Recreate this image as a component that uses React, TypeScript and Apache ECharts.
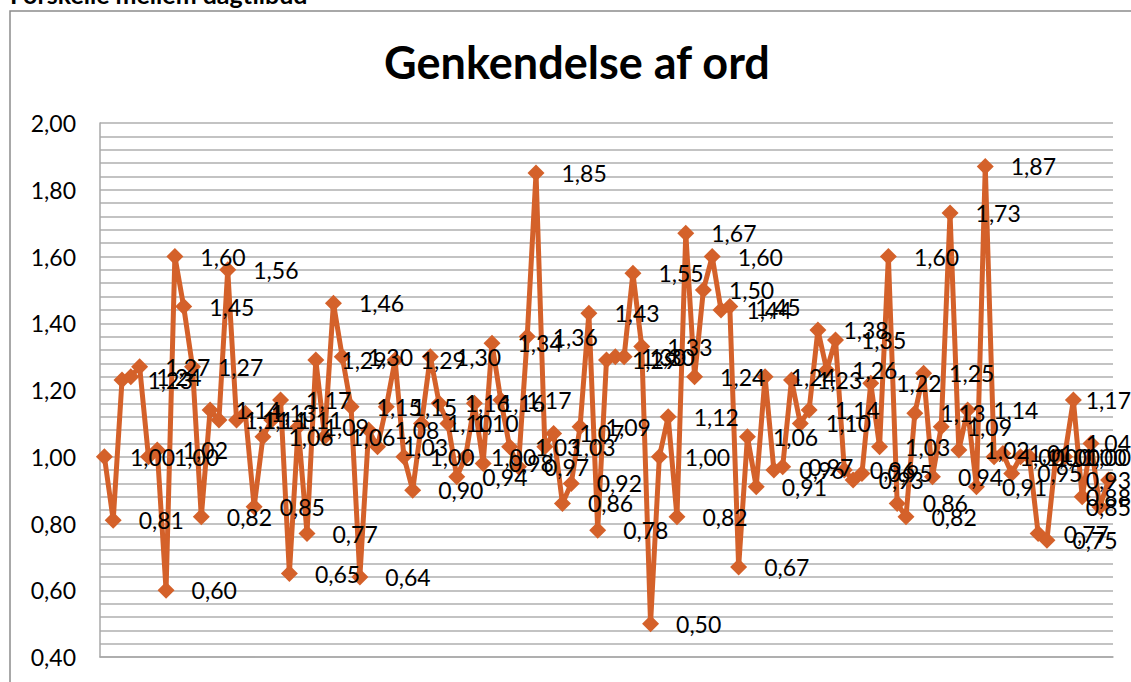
import React, { useEffect, useRef } from "react";
import * as echarts from "echarts";

const chartTitle = "Genkendelse af ord";
const topNote = "Forskelle mellem dagtilbud";

const yMin = 0.4;
const yMax = 2.0;
const yStep = 0.2;

const values = [
  1.0, 0.81, 1.23, 1.24, 1.27, 1.0, 1.02, 0.6, 1.6, 1.45,
  1.27, 0.82, 1.14, 1.11, 1.56, 1.11, 1.13, 0.85, 1.06, 1.11,
  1.17, 0.65, 1.09, 0.77, 1.29, 1.06, 1.46, 1.3, 1.15, 0.64,
  1.08, 1.03, 1.15, 1.29, 1.0, 0.9, 1.1, 1.3, 1.16, 1.1,
  0.94, 1.0, 1.16, 0.98, 1.34, 1.17, 1.03, 0.97, 1.36, 1.85,
  1.03, 1.07, 0.86, 0.92, 1.09, 1.43, 0.78, 1.29, 1.3, 1.3,
  1.55, 1.33, 0.5, 1.0, 1.12, 0.82, 1.67, 1.24, 1.5, 1.6,
  1.44, 1.45, 0.67, 1.06, 0.91, 1.24, 0.96, 0.97, 1.23, 1.1,
  1.14, 1.38, 1.26, 1.35, 0.96, 0.93, 0.95, 1.22, 1.03, 1.6,
  0.86, 0.82, 1.13, 1.25, 0.94, 1.09, 1.73, 1.02, 1.14, 0.91,
  1.87, 1.0, 1.01, 0.95, 1.0, 1.0, 0.77, 0.75, 1.0, 1.0,
  1.17, 0.88, 1.04, 0.85, 0.93,
];

const categories = values.map((_, i) => String(i + 1));

const fmt = (v: number) => Number(v).toFixed(2).replace(".", ",");

const lineColor = "#D4612A";
const gridColor = "#AFAFAF";
const labelRightLimit = 1131;

export default function App() {
  const ref = useRef<HTMLDivElement>(null);

  useEffect(() => {
    document.body.style.margin = "0";
    if (!ref.current) return;
    const chart = echarts.init(ref.current, undefined, { renderer: "svg" });
    chart.setOption({
      animation: false,
      backgroundColor: "#ffffff",
      grid: { left: 100, right: 18, top: 123, bottom: 25, containLabel: false },
      xAxis: {
        type: "category",
        data: categories,
        boundaryGap: true,
        axisLine: { show: true, lineStyle: { color: "#A8A8A8", width: 1.5 } },
        axisTick: { show: false },
        axisLabel: { show: false },
        splitLine: { show: false },
      },
      yAxis: {
        type: "value",
        min: yMin,
        max: yMax,
        interval: yStep,
        axisLine: { show: true, lineStyle: { color: "#A8A8A8", width: 1.5 } },
        axisTick: { show: false },
        axisLabel: {
          formatter: (v: number) => fmt(v),
          fontFamily: "Lato",
          fontSize: 23,
          color: "#000000",
          margin: 24,
        },
        splitLine: { show: true, lineStyle: { color: gridColor, width: 1.6 } },
        minorTick: { show: false, splitNumber: 5 },
        minorSplitLine: { show: true, lineStyle: { color: gridColor, width: 1.6 } },
      },
      series: [
        {
          type: "line",
          data: values,
          symbol: "diamond",
          symbolSize: 17,
          showSymbol: true,
          showAllSymbol: true,
          itemStyle: { color: lineColor },
          lineStyle: { color: lineColor, width: 5 },
          label: {
            show: true,
            position: "right",
            distance: 17,
            formatter: (p: any) => fmt(p.value),
            fontFamily: "Lato",
            fontSize: 23,
            color: "#000000",
          },
          labelLayout: (params: any) => {
            const r = params.labelRect;
            if (r && r.x + r.width > labelRightLimit) {
              return { dx: labelRightLimit - (r.x + r.width) };
            }
            return {};
          },
          z: 3,
        },
      ],
      graphic: [
        {
          type: "rect",
          shape: { x: 10, y: 11, width: 1300, height: 900 },
          style: { fill: "none", stroke: "#8C8C8C", lineWidth: 1.5 },
          silent: true,
        },
        {
          type: "text",
          x: 577,
          y: 62,
          style: {
            text: chartTitle,
            font: "bold 45px Lato",
            fill: "#000000",
            align: "center",
            verticalAlign: "middle",
          },
        },
        {
          type: "text",
          x: 10,
          y: -6,
          style: {
            text: topNote,
            font: "bold 25px Lato",
            fill: "#000000",
            align: "left",
            verticalAlign: "middle",
          },
        },
      ],
    });
    return () => chart.dispose();
  }, []);

  return <div ref={ref} style={{ width: 1131, height: 682 }} />;
}
